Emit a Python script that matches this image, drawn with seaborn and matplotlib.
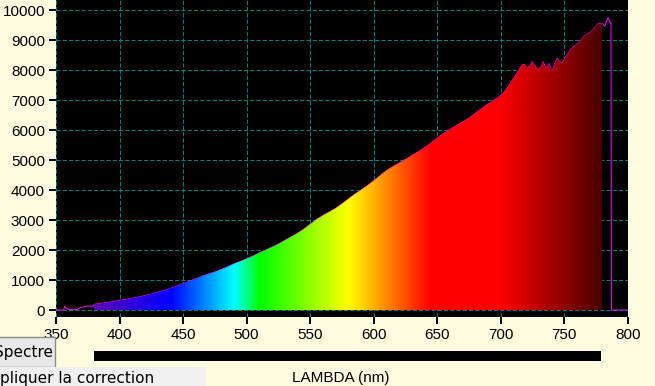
import numpy as np
import matplotlib
matplotlib.use('Agg')
import matplotlib.pyplot as plt
import seaborn as sns
from matplotlib.colors import LinearSegmentedColormap
from matplotlib.patches import Rectangle

# Spectrum readings (nm -> counts)
wavelength = [350, 352, 356, 357, 358, 359.5, 367, 368, 370.5, 374.5, 375.5, 379.5,
              380, 385, 390, 395, 400, 405, 410, 415, 420, 425, 430, 435, 440, 445, 450,
              455, 460, 465, 470, 475, 480, 485, 490, 495, 500, 505, 510, 515, 520, 525,
              530, 535, 540, 545, 550, 555, 560, 565, 570, 575, 580, 585, 590, 595, 600,
              605, 610, 615, 620, 625, 630, 635, 640, 645, 650, 655, 660, 665, 670, 675,
              680, 685, 690, 695, 700, 703, 706, 709, 712, 715, 717, 718.5, 720.5, 723,
              724.7, 726.5, 729.5, 731.5, 733.5, 735.5, 738, 740.5, 742.5, 744.5, 746.5,
              748.5, 751, 753, 755.5, 758, 760.5, 763, 765.5, 768, 771, 773.5, 776.5, 780,
              782, 784.5, 786, 786.8, 787.2, 800]
intensity = [20, 0, 0, 130, 60, 20, 20, 60, 90, 130, 130, 130,
             190, 220, 250, 285, 320, 355, 395, 435, 480, 530, 590, 650, 720, 800, 880,
             960, 1040, 1130, 1200, 1270, 1350, 1440, 1540, 1620, 1710, 1800, 1910, 2000, 2100, 2200,
             2320, 2440, 2560, 2700, 2860, 3020, 3150, 3270, 3390, 3540, 3700, 3860, 4000, 4150, 4310,
             4480, 4650, 4780, 4900, 5020, 5150, 5280, 5410, 5560, 5740, 5880, 6020, 6150, 6270, 6400,
             6560, 6720, 6870, 7000, 7150, 7280, 7450, 7650, 7850, 8050, 8180, 8200, 8090, 8130,
             8280, 8170, 8020, 8090, 8280, 8055, 8220, 7950, 8220, 8400, 8280,
             8240, 8440, 8560, 8720, 8800, 8890, 9000, 9130, 9200, 9280, 9390, 9550, 9555,
             9470, 9755, 9610, 9610, 0, 0]

# visible band colour stops
color_nm = [380, 440, 490, 510, 580, 645, 700, 780]
color_hex = ['#5c00b8', '#0000ff', '#00ffff', '#00ff00', '#ffff00', '#ff0000', '#ff0000', '#4a0000']

x_ticks = list(range(350, 801, 50))
y_ticks = list(range(0, 10001, 1000))

W, H = 655, 386
CREAM = '#fffbdf'


def fx(px):
    return px / W


def fy(py):
    return 1 - py / H


sns.set_theme(style='ticks')
plt.rcParams['font.family'] = ['Liberation Sans', 'DejaVu Sans']

fig = plt.figure(figsize=(W / 100, H / 100), dpi=100, facecolor=CREAM)
ax = fig.add_axes([fx(56), fy(316.7), (627.7 - 56) / W, 316.7 / H])
ax.set_facecolor('black')

wl = np.array(wavelength, dtype=float)
val = np.array(intensity, dtype=float)

# magenta trace of the raw spectrum (sits just under the fill)
sns.lineplot(x=wl, y=val, color='#ff00ff', linewidth=0.7, estimator=None, ax=ax, zorder=1.8)

# rainbow fill under the curve, 380-780 nm
band = (wl >= 380) & (wl <= 780)
poly = ax.fill_between(wl[band], val[band], 0, facecolor='none', edgecolor='none')
stops = [((n - 380) / 400, c) for n, c in zip(color_nm, color_hex)]
cmap = LinearSegmentedColormap.from_list('spectre', stops)
grad = np.linspace(0, 1, 800).reshape(1, -1)
im = ax.imshow(grad, cmap=cmap, extent=(380, 780, 0, 10343), aspect='auto',
               interpolation='bilinear', zorder=2)
im.set_clip_path(poly.get_paths()[0], transform=ax.transData)

ax.set_xlim(350, 800)
ax.set_ylim(-223, 10343)
ax.set_xticks(x_ticks)
ax.set_yticks(y_ticks)
ax.set_xlabel('')
ax.set_ylabel('')
ax.set_axisbelow(True)
ax.grid(True, color='#008080', linestyle=(0, (4, 2)), linewidth=0.75)
for s in ax.spines.values():
    s.set_visible(False)
ax.tick_params(direction='out', length=5, width=1.4, color='black',
               labelsize=11, pad=3, labelcolor='black')

# bits of the surrounding window
fig.add_artist(Rectangle((fx(-2), fy(367)), 57 / W, 30 / H, transform=fig.transFigure,
                         facecolor='#e8e8e8', edgecolor='#8c8c8c', linewidth=1, zorder=5))
fig.text(fx(53), fy(357), 'Spectre', ha='right', va='baseline', fontsize=11,
         family=['DejaVu Sans'], color='black', zorder=6)
fig.add_artist(Rectangle((fx(94), fy(361)), 507 / W, 10 / H, transform=fig.transFigure,
                         facecolor='black', edgecolor='none', zorder=5))
fig.add_artist(Rectangle((fx(0), fy(386)), 206 / W, 19 / H, transform=fig.transFigure,
                         facecolor='#f0f0f0', edgecolor='none', zorder=5))
fig.text(fx(0), fy(383), 'pliquer la correction', ha='left', va='baseline', fontsize=11,
         family=['DejaVu Sans'], color='black', zorder=6)
fig.text(fx(341), fy(382), 'LAMBDA (nm)', ha='center', va='baseline', fontsize=11,
         color='black', zorder=6)

fig.savefig('out.png', dpi=100, facecolor=CREAM)
